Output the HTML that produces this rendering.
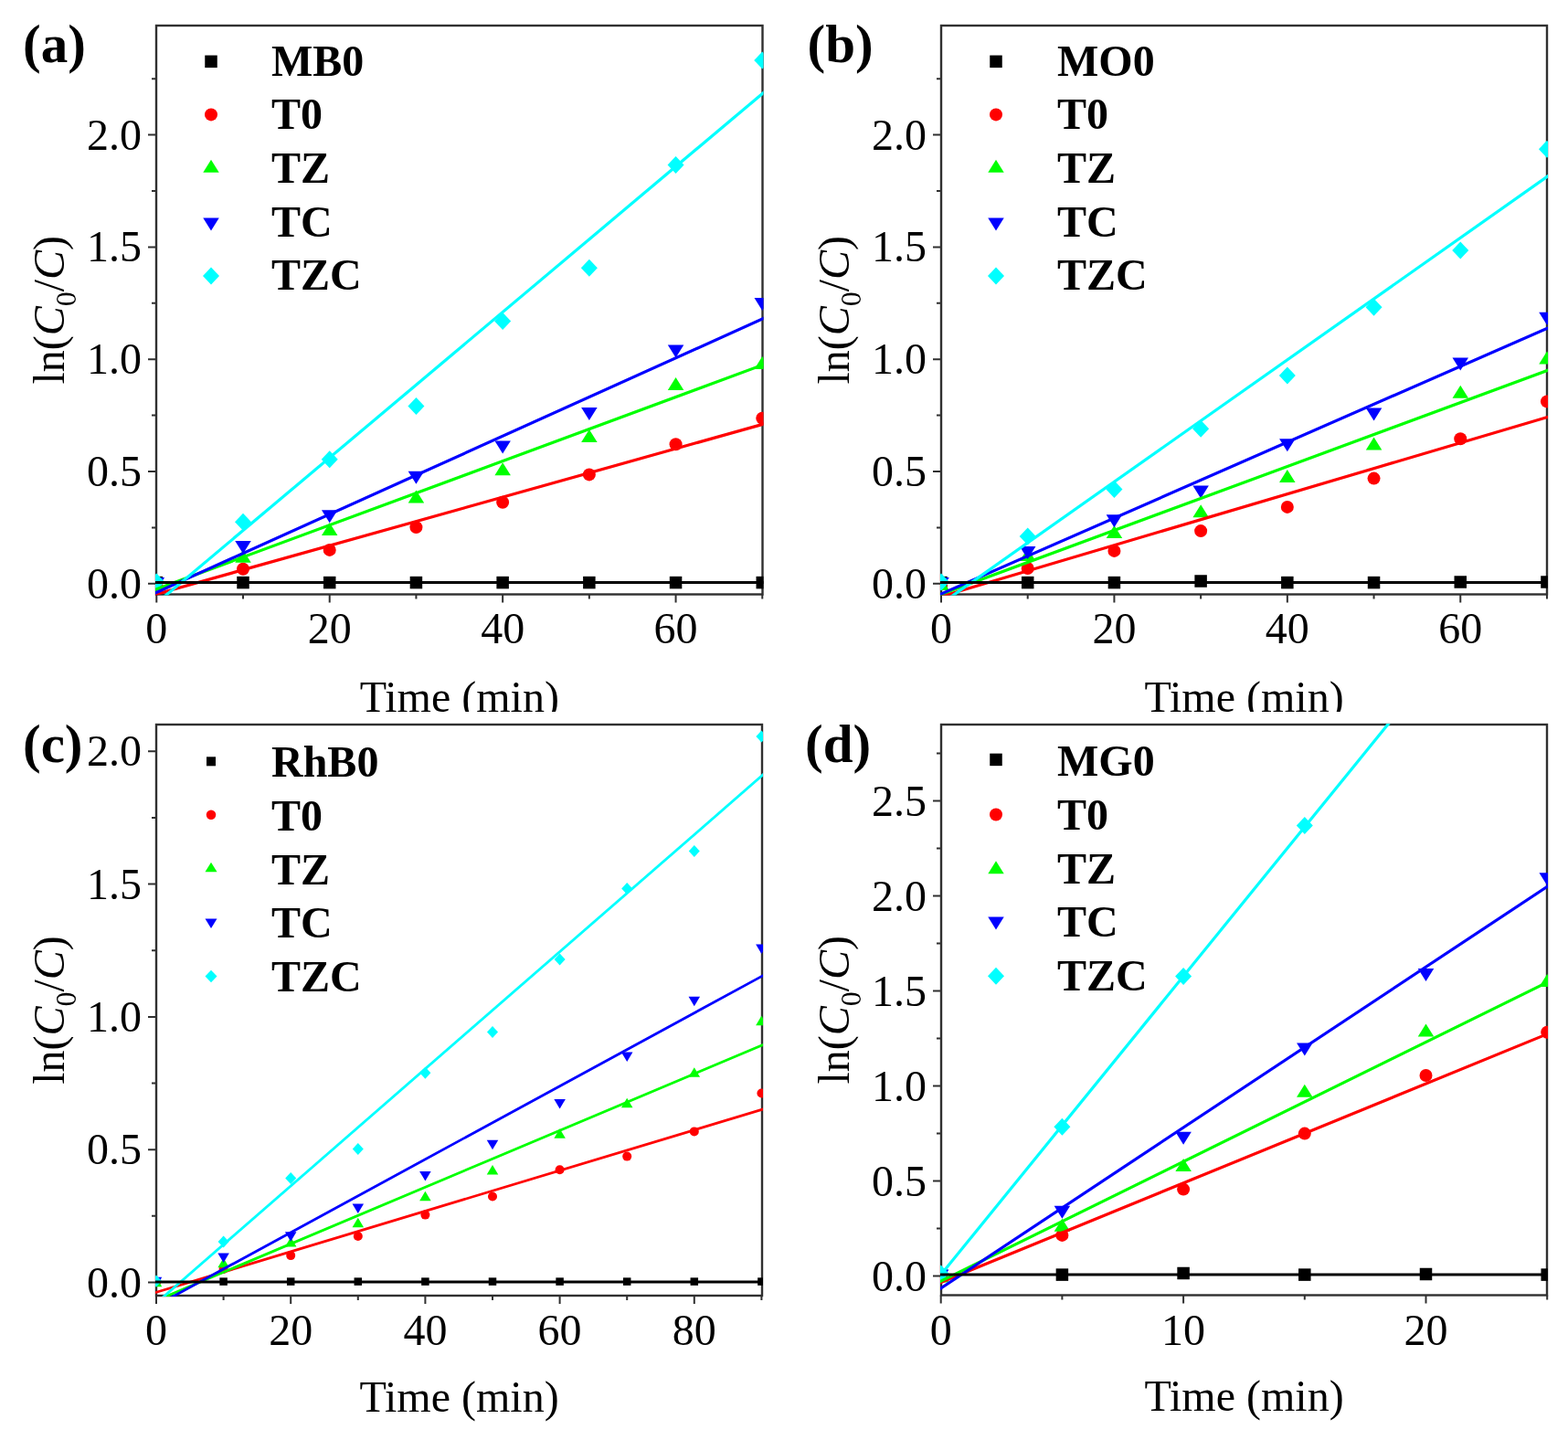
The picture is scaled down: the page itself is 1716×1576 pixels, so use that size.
<!DOCTYPE html>
<html><head><meta charset="utf-8"><title>Kinetic plots</title>
<style>html,body{margin:0;padding:0;background:#fff;}svg{display:block;}</style>
</head><body>
<svg width="1716" height="1576" viewBox="0 0 1716 1576" font-family='"Liberation Serif", "Times New Roman", serif' fill="#000">
<rect width="1716" height="1576" fill="#fff"/>
<clipPath id="top"><rect x="0" y="0" width="1716" height="779"/></clipPath>
<g clip-path="url(#top)">
<clipPath id="ca"><rect x="170" y="27" width="665.5" height="624.5"/></clipPath>
<rect x="171" y="28" width="663.5" height="622.5" fill="none" stroke="#303030" stroke-width="2.4"/>
<text x="155" y="654.8" text-anchor="end" font-size="48">0.0</text>
<text x="155" y="532" text-anchor="end" font-size="48">0.5</text>
<text x="155" y="409.2" text-anchor="end" font-size="48">1.0</text>
<text x="155" y="286.4" text-anchor="end" font-size="48">1.5</text>
<text x="155" y="163.6" text-anchor="end" font-size="48">2.0</text>
<text x="171.3" y="704" text-anchor="middle" font-size="48">0</text>
<text x="360.72" y="704" text-anchor="middle" font-size="48">20</text>
<text x="550.14" y="704" text-anchor="middle" font-size="48">40</text>
<text x="739.56" y="704" text-anchor="middle" font-size="48">60</text>
<path d="M162 638.8H171M162 516H171M162 393.2H171M162 270.4H171M162 147.6H171M166 577.4H171M166 454.6H171M166 331.8H171M166 209H171M166 86.2H171M171.3 650.5V659.5M360.72 650.5V659.5M550.14 650.5V659.5M739.56 650.5V659.5M266.01 650.5V655.5M455.43 650.5V655.5M644.85 650.5V655.5M834.27 650.5V655.5" stroke="#303030" stroke-width="2" fill="none"/>
<text x="502.75" y="778.5" text-anchor="middle" font-size="48">Time (min)</text>
<text transform="translate(69.5 339.25) rotate(-90)" text-anchor="middle" font-size="48">ln(<tspan font-style="italic">C</tspan><tspan font-size="32" dy="13">0</tspan><tspan dy="-13">/</tspan><tspan font-style="italic">C</tspan>)</text>
<text x="25" y="68" font-weight="bold" font-size="59">(a)</text>
<rect x="224.25" y="60.55" width="13.5" height="13.5" fill="#000000"/>
<text x="297" y="82.5" font-weight="bold" font-size="48">MB0</text>
<circle cx="231" cy="125.4" r="7" fill="#ff0000"/>
<text x="297" y="141.3" font-weight="bold" font-size="48">T0</text>
<polygon points="222.25,188.7 239.75,188.7 231,174.7" fill="#00ff00"/>
<text x="297" y="199.8" font-weight="bold" font-size="48">TZ</text>
<polygon points="222.25,238.6 239.75,238.6 231,252.6" fill="#0000ff"/>
<text x="297" y="258.5" font-weight="bold" font-size="48">TC</text>
<polygon points="231,292.6 240,302.1 231,311.6 222,302.1" fill="#00ffff"/>
<text x="297" y="317.2" font-weight="bold" font-size="48">TZC</text>
<g clip-path="url(#ca)">
<rect x="164.55" y="630.85" width="13.5" height="13.5" fill="#000000"/>
<rect x="259.26" y="630.85" width="13.5" height="13.5" fill="#000000"/>
<rect x="353.97" y="630.85" width="13.5" height="13.5" fill="#000000"/>
<rect x="448.68" y="630.85" width="13.5" height="13.5" fill="#000000"/>
<rect x="543.39" y="630.85" width="13.5" height="13.5" fill="#000000"/>
<rect x="638.1" y="630.85" width="13.5" height="13.5" fill="#000000"/>
<rect x="732.81" y="630.85" width="13.5" height="13.5" fill="#000000"/>
<rect x="827.52" y="630.85" width="13.5" height="13.5" fill="#000000"/>
<circle cx="171.3" cy="639" r="7" fill="#ff0000"/>
<circle cx="266.01" cy="622.7" r="7" fill="#ff0000"/>
<circle cx="360.72" cy="601.9" r="7" fill="#ff0000"/>
<circle cx="455.43" cy="577.1" r="7" fill="#ff0000"/>
<circle cx="550.14" cy="549.7" r="7" fill="#ff0000"/>
<circle cx="644.85" cy="519.4" r="7" fill="#ff0000"/>
<circle cx="739.56" cy="486.2" r="7" fill="#ff0000"/>
<circle cx="834.27" cy="457.7" r="7" fill="#ff0000"/>
<polygon points="162.55,646 180.05,646 171.3,632" fill="#00ff00"/>
<polygon points="257.26,615.8 274.76,615.8 266.01,601.8" fill="#00ff00"/>
<polygon points="351.97,586.1 369.47,586.1 360.72,572.1" fill="#00ff00"/>
<polygon points="446.68,550.5 464.18,550.5 455.43,536.5" fill="#00ff00"/>
<polygon points="541.39,520.2 558.89,520.2 550.14,506.2" fill="#00ff00"/>
<polygon points="636.1,484.1 653.6,484.1 644.85,470.1" fill="#00ff00"/>
<polygon points="730.81,427 748.31,427 739.56,413" fill="#00ff00"/>
<polygon points="825.52,404.1 843.02,404.1 834.27,390.1" fill="#00ff00"/>
<polygon points="162.55,632 180.05,632 171.3,646" fill="#0000ff"/>
<polygon points="257.26,592 274.76,592 266.01,606" fill="#0000ff"/>
<polygon points="351.97,558.3 369.47,558.3 360.72,572.3" fill="#0000ff"/>
<polygon points="446.68,515.7 464.18,515.7 455.43,529.7" fill="#0000ff"/>
<polygon points="541.39,482.5 558.89,482.5 550.14,496.5" fill="#0000ff"/>
<polygon points="636.1,446.1 653.6,446.1 644.85,460.1" fill="#0000ff"/>
<polygon points="730.81,377.5 748.31,377.5 739.56,391.5" fill="#0000ff"/>
<polygon points="825.52,326.1 843.02,326.1 834.27,340.1" fill="#0000ff"/>
<polygon points="171.3,627.5 180.3,637 171.3,646.5 162.3,637" fill="#00ffff"/>
<polygon points="266.01,561.7 275.01,571.2 266.01,580.7 257.01,571.2" fill="#00ffff"/>
<polygon points="360.72,493.3 369.72,502.8 360.72,512.3 351.72,502.8" fill="#00ffff"/>
<polygon points="455.43,434.9 464.43,444.4 455.43,453.9 446.43,444.4" fill="#00ffff"/>
<polygon points="550.14,341.9 559.14,351.4 550.14,360.9 541.14,351.4" fill="#00ffff"/>
<polygon points="644.85,283.8 653.85,293.3 644.85,302.8 635.85,293.3" fill="#00ffff"/>
<polygon points="739.56,171.1 748.56,180.6 739.56,190.1 730.56,180.6" fill="#00ffff"/>
<polygon points="834.27,56.6 843.27,66.1 834.27,75.6 825.27,66.1" fill="#00ffff"/>
<line x1="168" y1="651.12" x2="837.5" y2="463.6" stroke="#ff0000" stroke-width="3.2"/>
<line x1="168" y1="645.98" x2="837.5" y2="398.32" stroke="#00ff00" stroke-width="3.2"/>
<line x1="168" y1="649.81" x2="837.5" y2="347.56" stroke="#0000ff" stroke-width="3.2"/>
<line x1="168" y1="662.99" x2="837.5" y2="99.88" stroke="#00ffff" stroke-width="3.2"/>
<line x1="168" y1="637.5" x2="837.5" y2="637.5" stroke="#000000" stroke-width="3.2"/>
</g>
<clipPath id="cb"><rect x="1029" y="27" width="665" height="624.5"/></clipPath>
<rect x="1030" y="28" width="663" height="622.5" fill="none" stroke="#303030" stroke-width="2.4"/>
<text x="1014" y="654.8" text-anchor="end" font-size="48">0.0</text>
<text x="1014" y="532" text-anchor="end" font-size="48">0.5</text>
<text x="1014" y="409.2" text-anchor="end" font-size="48">1.0</text>
<text x="1014" y="286.4" text-anchor="end" font-size="48">1.5</text>
<text x="1014" y="163.6" text-anchor="end" font-size="48">2.0</text>
<text x="1030" y="704" text-anchor="middle" font-size="48">0</text>
<text x="1219.42" y="704" text-anchor="middle" font-size="48">20</text>
<text x="1408.84" y="704" text-anchor="middle" font-size="48">40</text>
<text x="1598.26" y="704" text-anchor="middle" font-size="48">60</text>
<path d="M1021 638.8H1030M1021 516H1030M1021 393.2H1030M1021 270.4H1030M1021 147.6H1030M1025 577.4H1030M1025 454.6H1030M1025 331.8H1030M1025 209H1030M1025 86.2H1030M1030 650.5V659.5M1219.42 650.5V659.5M1408.84 650.5V659.5M1598.26 650.5V659.5M1124.71 650.5V655.5M1314.13 650.5V655.5M1503.55 650.5V655.5M1692.97 650.5V655.5" stroke="#303030" stroke-width="2" fill="none"/>
<text x="1361.5" y="778.5" text-anchor="middle" font-size="48">Time (min)</text>
<text transform="translate(928.5 339.25) rotate(-90)" text-anchor="middle" font-size="48">ln(<tspan font-style="italic">C</tspan><tspan font-size="32" dy="13">0</tspan><tspan dy="-13">/</tspan><tspan font-style="italic">C</tspan>)</text>
<text x="883.5" y="68" font-weight="bold" font-size="59">(b)</text>
<rect x="1083.25" y="60.55" width="13.5" height="13.5" fill="#000000"/>
<text x="1157" y="82.5" font-weight="bold" font-size="48">MO0</text>
<circle cx="1090" cy="125.4" r="7" fill="#ff0000"/>
<text x="1157" y="141.3" font-weight="bold" font-size="48">T0</text>
<polygon points="1081.25,188.7 1098.75,188.7 1090,174.7" fill="#00ff00"/>
<text x="1157" y="199.8" font-weight="bold" font-size="48">TZ</text>
<polygon points="1081.25,238.6 1098.75,238.6 1090,252.6" fill="#0000ff"/>
<text x="1157" y="258.5" font-weight="bold" font-size="48">TC</text>
<polygon points="1090,292.6 1099,302.1 1090,311.6 1081,302.1" fill="#00ffff"/>
<text x="1157" y="317.2" font-weight="bold" font-size="48">TZC</text>
<g clip-path="url(#cb)">
<rect x="1023.25" y="630.85" width="13.5" height="13.5" fill="#000000"/>
<rect x="1117.96" y="630.85" width="13.5" height="13.5" fill="#000000"/>
<rect x="1212.67" y="630.85" width="13.5" height="13.5" fill="#000000"/>
<rect x="1307.38" y="629.25" width="13.5" height="13.5" fill="#000000"/>
<rect x="1402.09" y="630.85" width="13.5" height="13.5" fill="#000000"/>
<rect x="1496.8" y="630.85" width="13.5" height="13.5" fill="#000000"/>
<rect x="1591.51" y="630.25" width="13.5" height="13.5" fill="#000000"/>
<rect x="1686.22" y="630.25" width="13.5" height="13.5" fill="#000000"/>
<circle cx="1030" cy="639" r="7" fill="#ff0000"/>
<circle cx="1124.71" cy="622" r="7" fill="#ff0000"/>
<circle cx="1219.42" cy="602.9" r="7" fill="#ff0000"/>
<circle cx="1314.13" cy="581.1" r="7" fill="#ff0000"/>
<circle cx="1408.84" cy="554.9" r="7" fill="#ff0000"/>
<circle cx="1503.55" cy="523.6" r="7" fill="#ff0000"/>
<circle cx="1598.26" cy="480.2" r="7" fill="#ff0000"/>
<circle cx="1692.97" cy="439.4" r="7" fill="#ff0000"/>
<polygon points="1021.25,646 1038.75,646 1030,632" fill="#00ff00"/>
<polygon points="1115.96,614 1133.46,614 1124.71,600" fill="#00ff00"/>
<polygon points="1210.67,589.1 1228.17,589.1 1219.42,575.1" fill="#00ff00"/>
<polygon points="1305.38,566.3 1322.88,566.3 1314.13,552.3" fill="#00ff00"/>
<polygon points="1400.09,528.1 1417.59,528.1 1408.84,514.1" fill="#00ff00"/>
<polygon points="1494.8,492.6 1512.3,492.6 1503.55,478.6" fill="#00ff00"/>
<polygon points="1589.51,435.7 1607.01,435.7 1598.26,421.7" fill="#00ff00"/>
<polygon points="1684.22,398.4 1701.72,398.4 1692.97,384.4" fill="#00ff00"/>
<polygon points="1021.25,632 1038.75,632 1030,646" fill="#0000ff"/>
<polygon points="1115.96,598 1133.46,598 1124.71,612" fill="#0000ff"/>
<polygon points="1210.67,563.2 1228.17,563.2 1219.42,577.2" fill="#0000ff"/>
<polygon points="1305.38,531.5 1322.88,531.5 1314.13,545.5" fill="#0000ff"/>
<polygon points="1400.09,480.3 1417.59,480.3 1408.84,494.3" fill="#0000ff"/>
<polygon points="1494.8,446.6 1512.3,446.6 1503.55,460.6" fill="#0000ff"/>
<polygon points="1589.51,391.5 1607.01,391.5 1598.26,405.5" fill="#0000ff"/>
<polygon points="1684.22,341.8 1701.72,341.8 1692.97,355.8" fill="#0000ff"/>
<polygon points="1030,627.5 1039,637 1030,646.5 1021,637" fill="#00ffff"/>
<polygon points="1124.71,577.5 1133.71,587 1124.71,596.5 1115.71,587" fill="#00ffff"/>
<polygon points="1219.42,526 1228.42,535.5 1219.42,545 1210.42,535.5" fill="#00ffff"/>
<polygon points="1314.13,459.7 1323.13,469.2 1314.13,478.7 1305.13,469.2" fill="#00ffff"/>
<polygon points="1408.84,401.4 1417.84,410.9 1408.84,420.4 1399.84,410.9" fill="#00ffff"/>
<polygon points="1503.55,326.8 1512.55,336.3 1503.55,345.8 1494.55,336.3" fill="#00ffff"/>
<polygon points="1598.26,264.6 1607.26,274.1 1598.26,283.6 1589.26,274.1" fill="#00ffff"/>
<polygon points="1692.97,153.8 1701.97,163.3 1692.97,172.8 1683.97,163.3" fill="#00ffff"/>
<line x1="1027" y1="653.68" x2="1696" y2="455.71" stroke="#ff0000" stroke-width="3.2"/>
<line x1="1027" y1="651.54" x2="1696" y2="404.49" stroke="#00ff00" stroke-width="3.2"/>
<line x1="1027" y1="651.25" x2="1696" y2="358.09" stroke="#0000ff" stroke-width="3.2"/>
<line x1="1027" y1="662.89" x2="1696" y2="191.39" stroke="#00ffff" stroke-width="3.2"/>
<line x1="1027" y1="637.5" x2="1696" y2="637.5" stroke="#000000" stroke-width="3.2"/>
</g>
</g>
<clipPath id="cc"><rect x="170" y="792" width="665" height="627"/></clipPath>
<rect x="171" y="793" width="663" height="625" fill="none" stroke="#303030" stroke-width="2.4"/>
<text x="155" y="1419.5" text-anchor="end" font-size="48">0.0</text>
<text x="155" y="1274.2" text-anchor="end" font-size="48">0.5</text>
<text x="155" y="1128.9" text-anchor="end" font-size="48">1.0</text>
<text x="155" y="983.6" text-anchor="end" font-size="48">1.5</text>
<text x="155" y="838.3" text-anchor="end" font-size="48">2.0</text>
<text x="171" y="1472" text-anchor="middle" font-size="48">0</text>
<text x="318.2" y="1472" text-anchor="middle" font-size="48">20</text>
<text x="465.4" y="1472" text-anchor="middle" font-size="48">40</text>
<text x="612.6" y="1472" text-anchor="middle" font-size="48">60</text>
<text x="759.8" y="1472" text-anchor="middle" font-size="48">80</text>
<path d="M162 1403.5H171M162 1258.2H171M162 1112.9H171M162 967.6H171M162 822.3H171M166 1330.85H171M166 1185.55H171M166 1040.25H171M166 894.95H171M171 1418V1427M318.2 1418V1427M465.4 1418V1427M612.6 1418V1427M759.8 1418V1427M244.6 1418V1423M391.8 1418V1423M539 1418V1423M686.2 1418V1423M833.4 1418V1423" stroke="#303030" stroke-width="2" fill="none"/>
<text x="502.5" y="1545" text-anchor="middle" font-size="48">Time (min)</text>
<text transform="translate(69.5 1105.5) rotate(-90)" text-anchor="middle" font-size="48">ln(<tspan font-style="italic">C</tspan><tspan font-size="32" dy="13">0</tspan><tspan dy="-13">/</tspan><tspan font-style="italic">C</tspan>)</text>
<text x="25" y="834" font-weight="bold" font-size="59">(c)</text>
<rect x="226" y="828.3" width="10" height="10" fill="#000000"/>
<text x="297" y="850.4" font-weight="bold" font-size="48">RhB0</text>
<circle cx="231" cy="891.8" r="5.25" fill="#ff0000"/>
<text x="297" y="909" font-weight="bold" font-size="48">T0</text>
<polygon points="224.5,954.25 237.5,954.25 231,943.75" fill="#00ff00"/>
<text x="297" y="967.5" font-weight="bold" font-size="48">TZ</text>
<polygon points="224.5,1005.55 237.5,1005.55 231,1016.05" fill="#0000ff"/>
<text x="297" y="1026" font-weight="bold" font-size="48">TC</text>
<polygon points="231,1061.65 237.5,1068.4 231,1075.15 224.5,1068.4" fill="#00ffff"/>
<text x="297" y="1084.5" font-weight="bold" font-size="48">TZC</text>
<g clip-path="url(#cc)">
<rect x="166.75" y="1398.35" width="8.5" height="8.5" fill="#000000"/>
<rect x="240.35" y="1398.35" width="8.5" height="8.5" fill="#000000"/>
<rect x="313.95" y="1398.35" width="8.5" height="8.5" fill="#000000"/>
<rect x="387.55" y="1398.35" width="8.5" height="8.5" fill="#000000"/>
<rect x="461.15" y="1398.35" width="8.5" height="8.5" fill="#000000"/>
<rect x="534.75" y="1398.35" width="8.5" height="8.5" fill="#000000"/>
<rect x="608.35" y="1398.35" width="8.5" height="8.5" fill="#000000"/>
<rect x="681.95" y="1398.35" width="8.5" height="8.5" fill="#000000"/>
<rect x="755.55" y="1398.35" width="8.5" height="8.5" fill="#000000"/>
<rect x="829.15" y="1398.35" width="8.5" height="8.5" fill="#000000"/>
<circle cx="171" cy="1403" r="5" fill="#ff0000"/>
<circle cx="244.6" cy="1389" r="5" fill="#ff0000"/>
<circle cx="318.2" cy="1374.1" r="5" fill="#ff0000"/>
<circle cx="391.8" cy="1353" r="5" fill="#ff0000"/>
<circle cx="465.4" cy="1329.6" r="5" fill="#ff0000"/>
<circle cx="539" cy="1309.5" r="5" fill="#ff0000"/>
<circle cx="612.6" cy="1280.2" r="5" fill="#ff0000"/>
<circle cx="686.2" cy="1265.6" r="5" fill="#ff0000"/>
<circle cx="759.8" cy="1238.4" r="5" fill="#ff0000"/>
<circle cx="833.4" cy="1196.5" r="5" fill="#ff0000"/>
<polygon points="164.75,1408.25 177.25,1408.25 171,1397.75" fill="#00ff00"/>
<polygon points="238.35,1387.25 250.85,1387.25 244.6,1376.75" fill="#00ff00"/>
<polygon points="311.95,1364.55 324.45,1364.55 318.2,1354.05" fill="#00ff00"/>
<polygon points="385.55,1343.25 398.05,1343.25 391.8,1332.75" fill="#00ff00"/>
<polygon points="459.15,1314.25 471.65,1314.25 465.4,1303.75" fill="#00ff00"/>
<polygon points="532.75,1285.45 545.25,1285.45 539,1274.95" fill="#00ff00"/>
<polygon points="606.35,1245.65 618.85,1245.65 612.6,1235.15" fill="#00ff00"/>
<polygon points="679.95,1212.25 692.45,1212.25 686.2,1201.75" fill="#00ff00"/>
<polygon points="753.55,1178.75 766.05,1178.75 759.8,1168.25" fill="#00ff00"/>
<polygon points="827.15,1122.25 839.65,1122.25 833.4,1111.75" fill="#00ff00"/>
<polygon points="164.75,1397.75 177.25,1397.75 171,1408.25" fill="#0000ff"/>
<polygon points="238.35,1371.45 250.85,1371.45 244.6,1381.95" fill="#0000ff"/>
<polygon points="311.95,1348.25 324.45,1348.25 318.2,1358.75" fill="#0000ff"/>
<polygon points="385.55,1317.45 398.05,1317.45 391.8,1327.95" fill="#0000ff"/>
<polygon points="459.15,1282.05 471.65,1282.05 465.4,1292.55" fill="#0000ff"/>
<polygon points="532.75,1247.75 545.25,1247.75 539,1258.25" fill="#0000ff"/>
<polygon points="606.35,1202.95 618.85,1202.95 612.6,1213.45" fill="#0000ff"/>
<polygon points="679.95,1151.45 692.45,1151.45 686.2,1161.95" fill="#0000ff"/>
<polygon points="753.55,1090.75 766.05,1090.75 759.8,1101.25" fill="#0000ff"/>
<polygon points="827.15,1033.45 839.65,1033.45 833.4,1043.95" fill="#0000ff"/>
<polygon points="171,1395.5 177,1402 171,1408.5 165,1402" fill="#00ffff"/>
<polygon points="244.6,1352.6 250.6,1359.1 244.6,1365.6 238.6,1359.1" fill="#00ffff"/>
<polygon points="318.2,1283.1 324.2,1289.6 318.2,1296.1 312.2,1289.6" fill="#00ffff"/>
<polygon points="391.8,1251.1 397.8,1257.6 391.8,1264.1 385.8,1257.6" fill="#00ffff"/>
<polygon points="465.4,1167.7 471.4,1174.2 465.4,1180.7 459.4,1174.2" fill="#00ffff"/>
<polygon points="539,1123 545,1129.5 539,1136 533,1129.5" fill="#00ffff"/>
<polygon points="612.6,1043.5 618.6,1050 612.6,1056.5 606.6,1050" fill="#00ffff"/>
<polygon points="686.2,966 692.2,972.5 686.2,979 680.2,972.5" fill="#00ffff"/>
<polygon points="759.8,925 765.8,931.5 759.8,938 753.8,931.5" fill="#00ffff"/>
<polygon points="833.4,799.5 839.4,806 833.4,812.5 827.4,806" fill="#00ffff"/>
<line x1="168" y1="1415.21" x2="837" y2="1213.41" stroke="#ff0000" stroke-width="2.8"/>
<line x1="168" y1="1424.64" x2="837" y2="1142.68" stroke="#00ff00" stroke-width="2.8"/>
<line x1="168" y1="1430.58" x2="837" y2="1066.64" stroke="#0000ff" stroke-width="2.8"/>
<line x1="168" y1="1428.77" x2="837" y2="846.23" stroke="#00ffff" stroke-width="2.8"/>
<line x1="168" y1="1403" x2="837" y2="1403" stroke="#000000" stroke-width="2.8"/>
</g>
<clipPath id="cd"><rect x="1029" y="792" width="665" height="626.5"/></clipPath>
<rect x="1030" y="793" width="663" height="624.5" fill="none" stroke="#303030" stroke-width="2.4"/>
<text x="1014" y="1412.5" text-anchor="end" font-size="48">0.0</text>
<text x="1014" y="1308.5" text-anchor="end" font-size="48">0.5</text>
<text x="1014" y="1204.5" text-anchor="end" font-size="48">1.0</text>
<text x="1014" y="1100.5" text-anchor="end" font-size="48">1.5</text>
<text x="1014" y="996.5" text-anchor="end" font-size="48">2.0</text>
<text x="1014" y="892.5" text-anchor="end" font-size="48">2.5</text>
<text x="1029.7" y="1472" text-anchor="middle" font-size="48">0</text>
<text x="1295.1" y="1472" text-anchor="middle" font-size="48">10</text>
<text x="1560.5" y="1472" text-anchor="middle" font-size="48">20</text>
<path d="M1021 1396.5H1030M1021 1292.5H1030M1021 1188.5H1030M1021 1084.5H1030M1021 980.5H1030M1021 876.5H1030M1025 1344.5H1030M1025 1240.5H1030M1025 1136.5H1030M1025 1032.5H1030M1025 928.5H1030M1025 824.5H1030M1029.7 1417.5V1426.5M1295.1 1417.5V1426.5M1560.5 1417.5V1426.5M1162.4 1417.5V1422.5M1427.8 1417.5V1422.5M1693.2 1417.5V1422.5" stroke="#303030" stroke-width="2" fill="none"/>
<text x="1361.5" y="1544" text-anchor="middle" font-size="48">Time (min)</text>
<text transform="translate(928.5 1105.25) rotate(-90)" text-anchor="middle" font-size="48">ln(<tspan font-style="italic">C</tspan><tspan font-size="32" dy="13">0</tspan><tspan dy="-13">/</tspan><tspan font-style="italic">C</tspan>)</text>
<text x="881" y="834" font-weight="bold" font-size="59">(d)</text>
<rect x="1083.25" y="824.65" width="13.5" height="13.5" fill="#000000"/>
<text x="1157" y="848.9" font-weight="bold" font-size="48">MG0</text>
<circle cx="1090" cy="891.5" r="7" fill="#ff0000"/>
<text x="1157" y="907.7" font-weight="bold" font-size="48">T0</text>
<polygon points="1081.25,956.2 1098.75,956.2 1090,942.2" fill="#00ff00"/>
<text x="1157" y="966.5" font-weight="bold" font-size="48">TZ</text>
<polygon points="1081.25,1003.5 1098.75,1003.5 1090,1017.5" fill="#0000ff"/>
<text x="1157" y="1025" font-weight="bold" font-size="48">TC</text>
<polygon points="1090,1058.7 1099,1068.2 1090,1077.7 1081,1068.2" fill="#00ffff"/>
<text x="1157" y="1083.5" font-weight="bold" font-size="48">TZC</text>
<g clip-path="url(#cd)">
<rect x="1022.95" y="1388.35" width="13.5" height="13.5" fill="#000000"/>
<rect x="1155.65" y="1388.35" width="13.5" height="13.5" fill="#000000"/>
<rect x="1288.35" y="1386.75" width="13.5" height="13.5" fill="#000000"/>
<rect x="1421.05" y="1388.35" width="13.5" height="13.5" fill="#000000"/>
<rect x="1553.75" y="1387.75" width="13.5" height="13.5" fill="#000000"/>
<rect x="1686.45" y="1388.35" width="13.5" height="13.5" fill="#000000"/>
<circle cx="1029.7" cy="1396.5" r="7" fill="#ff0000"/>
<circle cx="1162.4" cy="1351.9" r="7" fill="#ff0000"/>
<circle cx="1295.1" cy="1301.6" r="7" fill="#ff0000"/>
<circle cx="1427.8" cy="1240.6" r="7" fill="#ff0000"/>
<circle cx="1560.5" cy="1177" r="7" fill="#ff0000"/>
<circle cx="1693.2" cy="1129.7" r="7" fill="#ff0000"/>
<polygon points="1020.95,1403.5 1038.45,1403.5 1029.7,1389.5" fill="#00ff00"/>
<polygon points="1153.65,1347.7 1171.15,1347.7 1162.4,1333.7" fill="#00ff00"/>
<polygon points="1286.35,1282 1303.85,1282 1295.1,1268" fill="#00ff00"/>
<polygon points="1419.05,1200.7 1436.55,1200.7 1427.8,1186.7" fill="#00ff00"/>
<polygon points="1551.75,1134.6 1569.25,1134.6 1560.5,1120.6" fill="#00ff00"/>
<polygon points="1684.45,1080.1 1701.95,1080.1 1693.2,1066.1" fill="#00ff00"/>
<polygon points="1020.95,1389.5 1038.45,1389.5 1029.7,1403.5" fill="#0000ff"/>
<polygon points="1153.65,1319.7 1171.15,1319.7 1162.4,1333.7" fill="#0000ff"/>
<polygon points="1286.35,1238.7 1303.85,1238.7 1295.1,1252.7" fill="#0000ff"/>
<polygon points="1419.05,1141.5 1436.55,1141.5 1427.8,1155.5" fill="#0000ff"/>
<polygon points="1551.75,1059.9 1569.25,1059.9 1560.5,1073.9" fill="#0000ff"/>
<polygon points="1684.45,955.2 1701.95,955.2 1693.2,969.2" fill="#0000ff"/>
<polygon points="1029.7,1384.5 1038.7,1394 1029.7,1403.5 1020.7,1394" fill="#00ffff"/>
<polygon points="1162.4,1223.7 1171.4,1233.2 1162.4,1242.7 1153.4,1233.2" fill="#00ffff"/>
<polygon points="1295.1,1058.9 1304.1,1068.4 1295.1,1077.9 1286.1,1068.4" fill="#00ffff"/>
<polygon points="1427.8,894 1436.8,903.5 1427.8,913 1418.8,903.5" fill="#00ffff"/>
<line x1="1027" y1="1404.64" x2="1696" y2="1130.57" stroke="#ff0000" stroke-width="3.2"/>
<line x1="1027" y1="1403.47" x2="1696" y2="1073.72" stroke="#00ff00" stroke-width="3.2"/>
<line x1="1027" y1="1411.65" x2="1696" y2="968.51" stroke="#0000ff" stroke-width="3.2"/>
<line x1="1027" y1="1398.5" x2="1696" y2="574.79" stroke="#00ffff" stroke-width="3.2"/>
<line x1="1027" y1="1395" x2="1696" y2="1395" stroke="#000000" stroke-width="3.2"/>
</g>
</svg>
</body></html>
